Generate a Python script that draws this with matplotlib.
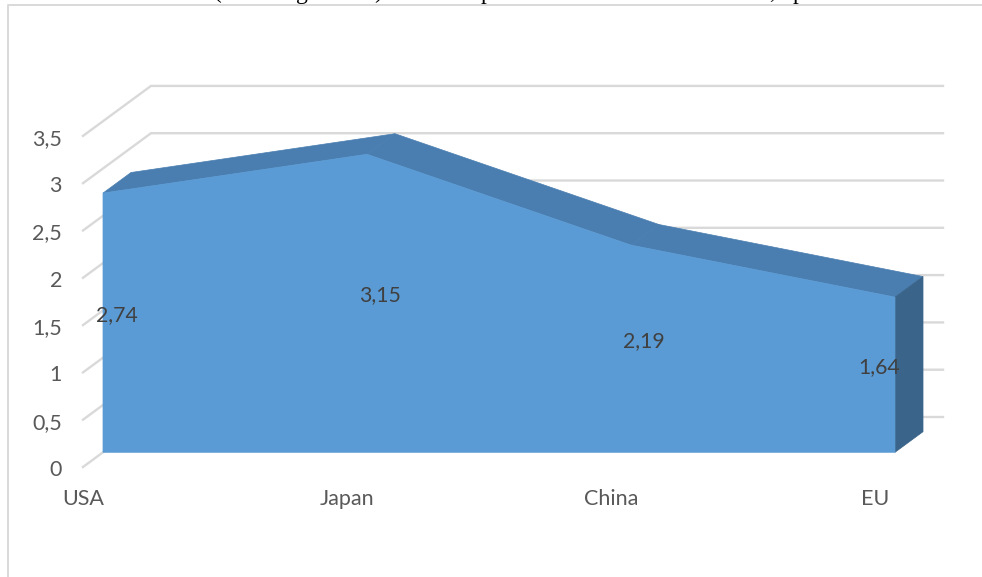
import matplotlib
matplotlib.use("Agg")
import matplotlib.pyplot as plt
from matplotlib.patches import Polygon

categories = ["USA", "Japan", "China", "EU"]
values = [2.74, 3.15, 2.19, 1.64]
value_labels = ["2,74", "3,15", "2,19", "1,64"]
y_ticks = [0, 0.5, 1, 1.5, 2, 2.5, 3, 3.5]
y_tick_labels = ["0", "0,5", "1", "1,5", "2", "2,5", "3", "3,5"]
# descenders of the cropped title line that is visible at the very top
title_fragments = [("(", 218), ("g", 302), (")", 378), ("p", 487), (",", 772), ("p", 799)]

W, H = 982, 577
X0, Y0 = 83.0, 467.0      # projected origin (front of floor)
DX, DVAL = 264.0, 94.6    # pixels per category, pixels per unit value
DEPTH_X, DEPTH_Y = 68.0, 50.0
AREA_D0, AREA_D1 = 0.294, 0.706
EDGE = "#d9d9d9"
label_dx = [14, 13, 13, -16]

def proj(i, v, d):
    return (X0 + DX * i + DEPTH_X * d, Y0 - DVAL * v - DEPTH_Y * d)

plt.rcParams["font.family"] = ["Lato", "DejaVu Sans"]
fig = plt.figure(figsize=(W / 100, H / 100), dpi=100)
ax = fig.add_axes([0, 0, 1, 1])
ax.set_xlim(0, W)
ax.set_ylim(H, 0)
ax.axis("off")

# cropped title
for s, x in title_fragments:
    ax.text(x, -1.5, s, ha="center", va="baseline", fontsize=17, color="#000000",
            family="Liberation Serif", zorder=1)

# chart frame
ax.plot([8.5, 8.5, W], [H, 4.5, 4.5], color=EDGE, lw=1.4, zorder=1)

# walls and gridlines
n = len(categories) - 1
for t in y_ticks:
    a, b, c = proj(0, t, 0), proj(0, t, 1), proj(n, t, 1)
    ax.plot([a[0], b[0], c[0]], [a[1], b[1], c[1]], color=EDGE, lw=1.7,
            solid_joinstyle="miter", zorder=2)

# sloped top faces, right side, front
for i in range(n):
    quad = [proj(i, values[i], AREA_D0), proj(i + 1, values[i + 1], AREA_D0),
            proj(i + 1, values[i + 1], AREA_D1), proj(i, values[i], AREA_D1)]
    ax.add_patch(Polygon(quad, closed=True, fc="#4a7eb0", ec="#4a7eb0", lw=0.5, zorder=3))
side = [proj(n, 0, AREA_D0), proj(n, values[n], AREA_D0),
        proj(n, values[n], AREA_D1), proj(n, 0, AREA_D1)]
ax.add_patch(Polygon(side, closed=True, fc="#3a6489", ec="#3a6489", lw=0.5, zorder=3))
front = ([proj(0, 0, AREA_D0)] + [proj(i, v, AREA_D0) for i, v in enumerate(values)]
         + [proj(n, 0, AREA_D0)])
ax.add_patch(Polygon(front, closed=True, fc="#5b9bd5", ec="#5b9bd5", lw=0.5, zorder=4))

# value-axis labels
for t, lab in zip(y_ticks, y_tick_labels):
    x, y = proj(0, t, 0)
    ax.text(x - 21, y + 3, lab, ha="right", va="center", fontsize=15.5, color="#595959", zorder=6)

# category labels
for i, c in enumerate(categories):
    x, _ = proj(i, 0, 0)
    ax.text(x, 499, c, ha="center", va="center", fontsize=15.5, color="#595959", zorder=6)

# data labels
for i, (v, lab) in enumerate(zip(values, value_labels)):
    x, _ = proj(i, 0, AREA_D0)
    y = proj(i, v / 2, AREA_D0)[1]
    ax.text(x + label_dx[i], y - 8, lab, ha="center", va="center", fontsize=15.3,
            color="#404040", zorder=7)

fig.savefig("out.png", dpi=100)
